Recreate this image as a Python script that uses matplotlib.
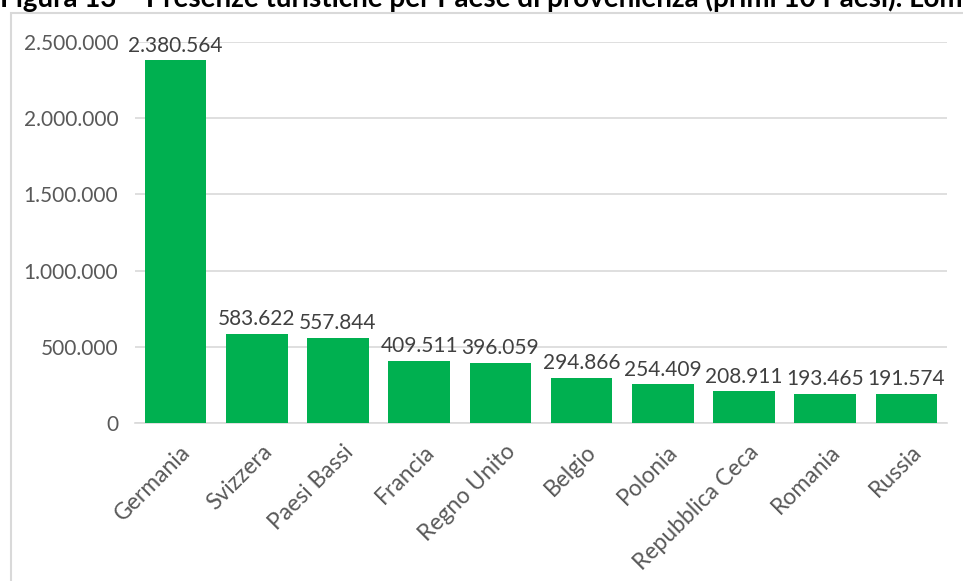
import matplotlib.pyplot as plt
from matplotlib.patches import Rectangle
from matplotlib.ticker import FuncFormatter
from matplotlib.transforms import ScaledTranslation

# Presenze turistiche, primi 10 Paesi di provenienza
paesi = ["Germania", "Svizzera", "Paesi Bassi", "Francia", "Regno Unito",
         "Belgio", "Polonia", "Repubblica Ceca", "Romania", "Russia"]
presenze = [2380564, 583622, 557844, 409511, 396059,
            294866, 254409, 208911, 193465, 191574]

titolo = "Figura 13 – Presenze turistiche per Paese di provenienza (primi 10 Paesi). Lombardia"

plt.rcParams["font.family"] = ["Lato", "DejaVu Sans"]


def punto_migliaia(v, pos=None):
    return f"{int(v):,}".replace(",", ".")


fig = plt.figure(figsize=(9.63, 5.81), dpi=100)
ax = fig.add_axes([135 / 963, 1 - 423 / 581, 812 / 963, 381 / 581])

# cornice del grafico (tagliata a destra e in basso)
fig.patches.append(Rectangle((11 / 963, -0.1), 1.2, 1 - 13 / 581 + 0.1,
                             transform=fig.transFigure, fill=False,
                             edgecolor="#D9D9D9", linewidth=1.5))

x = range(len(paesi))
ax.bar(x, presenze, width=0.76, color="#00B050", zorder=3)

for xi, v in zip(x, presenze):
    ax.text(xi, v + 30000, punto_migliaia(v), ha="center", va="bottom",
            fontsize=15, color="#404040")

ax.set_xlim(-0.5, len(paesi) - 0.5)
ax.set_ylim(0, 2500000)
ax.set_yticks(range(0, 2500001, 500000))
ax.yaxis.set_major_formatter(FuncFormatter(punto_migliaia))
ax.grid(axis="y", color="#D9D9D9", linewidth=1.2, zorder=0)

ax.set_xticks(list(x))
ax.set_xticklabels(paesi, rotation=45, ha="right", rotation_mode="anchor")
ax.tick_params(axis="y", length=0, labelsize=15, labelcolor="#595959", pad=12)
ax.tick_params(axis="x", length=0, labelsize=16.5, labelcolor="#595959", pad=13)
spost = ScaledTranslation(3 / 72, 0, fig.dpi_scale_trans)
for lab in ax.get_xticklabels():
    lab.set_transform(lab.get_transform() + spost)

for s in ["top", "right", "left"]:
    ax.spines[s].set_visible(False)
ax.spines["bottom"].set_color("#D9D9D9")
ax.spines["bottom"].set_linewidth(1.2)

fig.text(0, 1 - 7 / 581, titolo, fontsize=20, fontweight="bold",
         color="black", ha="left", va="baseline")

fig.savefig("out.png", dpi=100)
